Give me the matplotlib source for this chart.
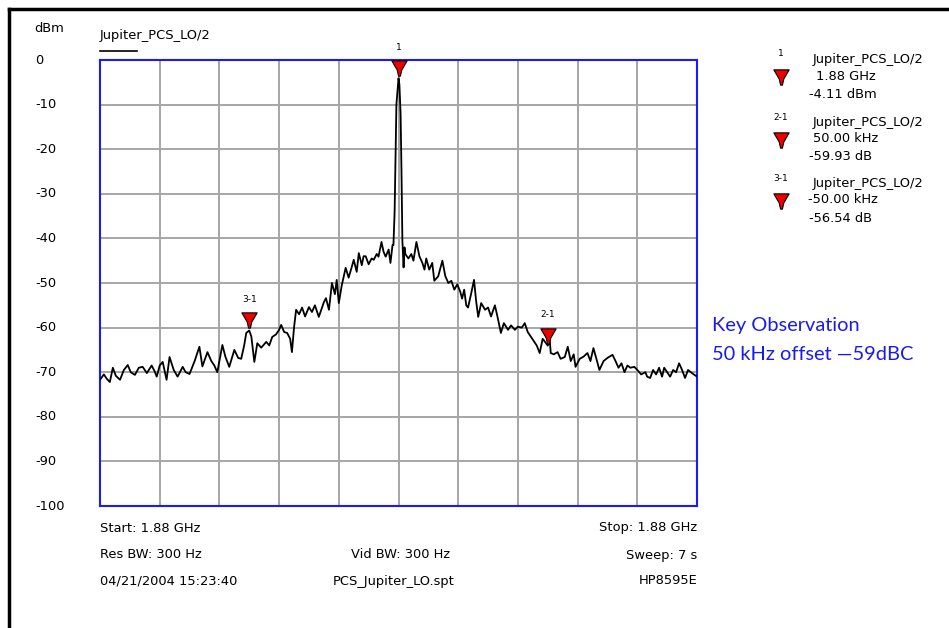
import matplotlib
matplotlib.use("Agg")
import matplotlib.pyplot as plt
from matplotlib.path import Path
from matplotlib.lines import Line2D
import matplotlib.transforms as mtransforms

# Spectrum trace: offset from 1.88 GHz centre (kHz) and level (dBm)
freq_khz = [
    -100.0, -98.7, -97.7, -96.7, -95.7, -94.7, -93.3, -92.0, -90.7, -89.7,
    -88.3, -87.0, -85.7, -84.3, -82.7, -81.7, -81.0, -80.0, -79.0, -77.7,
    -76.7, -75.3, -74.0, -72.3, -71.3, -70.0, -68.3, -66.7, -65.7, -64.0,
    -62.7, -61.7, -60.7, -59.0, -58.0, -56.7, -55.0, -53.7, -52.7, -51.7,
    -51.0, -50.0, -49.3, -48.3, -47.3, -46.0, -44.3, -43.3, -42.3, -41.0,
    -40.0, -39.3, -38.3, -37.3, -36.3, -35.7, -35.0, -34.3, -33.3, -32.3,
    -31.3, -30.0, -29.0, -28.0, -26.7, -25.0, -24.3, -23.3, -22.3, -21.3,
    -20.7, -20.0, -19.0, -17.7, -16.7, -15.7, -15.0, -14.0, -13.3, -12.3,
    -11.7, -11.0, -10.0, -9.0, -8.3, -7.3, -6.7, -5.7, -5.0, -4.3,
    -3.3, -2.7, -2.0, -1.7, -1.3, -1.0, -0.7, 0.0, 0.3, 0.7,
    1.0, 1.3, 1.7, 2.0, 2.3, 3.3, 4.3, 5.0, 6.0, 7.0,
    8.0, 8.7, 9.3, 10.3, 11.3, 12.0, 13.3, 14.7, 15.7, 16.7,
    17.7, 18.7, 19.7, 20.7, 21.3, 22.0, 22.7, 23.3, 24.3, 25.3,
    26.0, 26.7, 27.7, 29.0, 30.0, 31.0, 32.3, 33.3, 34.3, 35.3,
    36.7, 37.7, 39.0, 40.0, 41.3, 42.3, 43.3, 44.3, 45.3, 46.3,
    47.3, 48.3, 50.0, 50.7, 51.0, 52.0, 53.3, 54.3, 55.7, 56.7,
    57.7, 58.7, 59.3, 60.7, 62.0, 63.3, 64.3, 65.3, 66.3, 67.3,
    68.7, 70.0, 71.7, 72.7, 73.7, 74.7, 75.7, 76.7, 77.7, 79.0,
    80.0, 81.3, 82.7, 83.3, 84.3, 85.3, 86.3, 87.3, 88.3, 89.0,
    90.0, 91.0, 92.0, 93.0, 94.0, 95.0, 96.0, 97.0, 98.3, 100.0,
]
level_dbm = [
    -71.7, -70.5, -71.5, -72.2, -69.0, -70.8, -71.7, -69.5, -68.4, -70.0,
    -70.6, -69.0, -68.8, -70.2, -68.5, -69.8, -71.0, -68.5, -67.7, -71.7,
    -66.6, -69.5, -71.0, -68.8, -70.0, -70.4, -67.5, -64.3, -68.7, -65.5,
    -67.5, -68.5, -70.0, -63.9, -66.5, -68.8, -65.0, -66.8, -67.0, -64.0,
    -61.2, -60.65, -62.0, -67.7, -63.5, -64.5, -63.2, -64.0, -62.1, -61.5,
    -60.5, -59.4, -61.0, -61.2, -62.5, -65.5, -60.0, -56.0, -57.0, -55.5,
    -57.5, -55.4, -56.5, -55.0, -57.6, -54.3, -53.4, -56.0, -50.0, -52.5,
    -49.3, -54.5, -50.5, -46.6, -48.8, -46.5, -44.8, -47.5, -43.3, -46.0,
    -44.0, -44.0, -45.8, -44.5, -44.8, -43.5, -44.1, -40.8, -43.0, -44.1,
    -42.5, -45.5, -41.5, -41.5, -34.0, -22.0, -10.0, -4.11, -5.5, -12.0,
    -25.0, -40.5, -46.5, -42.0, -43.5, -44.5, -43.5, -45.0, -40.8, -44.0,
    -45.5, -47.0, -44.5, -47.0, -45.5, -49.5, -48.5, -45.0, -48.5, -50.0,
    -49.5, -51.5, -50.3, -52.0, -53.5, -51.5, -55.0, -55.5, -52.5, -49.3,
    -54.0, -57.6, -54.5, -56.0, -55.5, -57.5, -55.0, -58.0, -61.2, -59.0,
    -60.5, -59.5, -60.5, -59.8, -60.0, -59.0, -61.0, -62.0, -63.0, -64.0,
    -65.7, -62.5, -64.04, -63.0, -65.7, -66.0, -65.5, -67.0, -66.6, -64.3,
    -67.5, -66.0, -68.8, -67.0, -66.5, -65.7, -67.5, -64.6, -67.0, -69.5,
    -67.5, -66.8, -66.1, -67.5, -69.0, -68.0, -70.0, -68.5, -69.0, -68.8,
    -69.5, -70.5, -70.0, -71.0, -71.3, -69.5, -70.5, -69.0, -71.0, -69.0,
    -70.0, -71.0, -69.5, -70.0, -68.0, -69.5, -71.3, -69.5, -70.2, -71.0,
]

# Markers: label, offset (kHz), level (dBm)
marker_labels = ["1", "2-1", "3-1"]
marker_freq_khz = [0.0, 50.0, -50.0]
marker_level_dbm = [-4.11, -4.11 - 59.93, -4.11 - 56.54]
marker_readout = [
    ["Jupiter_PCS_LO/2", "1.88 GHz", "-4.11 dBm"],
    ["Jupiter_PCS_LO/2", "50.00 kHz", "-59.93 dB"],
    ["Jupiter_PCS_LO/2", "-50.00 kHz", "-56.54 dB"],
]

y_ticks = [0, -10, -20, -30, -40, -50, -60, -70, -80, -90, -100]

W, H = 949, 628
fig = plt.figure(figsize=(W / 100, H / 100), dpi=100)
fig.patch.set_facecolor("white")

def fx(px):
    return px / W

def fy(py):
    return 1 - py / H

ax = fig.add_axes([fx(100), fy(506), fx(697) - fx(100), fy(60) - fy(506)])
ax.set_xlim(-100, 100)
ax.set_ylim(-100, 0)
ax.set_xticks([-100 + 20 * i for i in range(11)])
ax.set_yticks(y_ticks)
ax.grid(True, color="#a6a6a6", linewidth=1.4)
ax.tick_params(length=0, labelbottom=False, labelleft=False)
for s in ax.spines.values():
    s.set_color("#1a1aff")
    s.set_linewidth(1.5)
ax.set_axisbelow(True)

ax.plot(freq_khz, level_dbm, color="black", linewidth=1.3, zorder=3)

# Pin-shaped marker glyph
pin = Path(
    [(-1.0, 1.0), (1.0, 1.0), (0.3, -0.2), (0.12, -1.0), (-0.12, -1.0), (-0.3, -0.2), (-1.0, 1.0)],
    [Path.MOVETO, Path.LINETO, Path.LINETO, Path.LINETO, Path.LINETO, Path.LINETO, Path.CLOSEPOLY],
)

font = ["DejaVu Sans"]
fs = 9.4

for lab, f, lv in zip(marker_labels, marker_freq_khz, marker_level_dbm):
    tr = mtransforms.offset_copy(ax.transData, fig=fig, x=0, y=10, units="dots")
    ax.plot([f], [lv], marker=pin, markersize=11, markerfacecolor="#ee0000",
            markeredgecolor="black", markeredgewidth=0.8, transform=tr,
            clip_on=False, zorder=5)
    tr2 = mtransforms.offset_copy(ax.transData, fig=fig, x=0, y=31, units="dots")
    ax.text(f, lv, lab, transform=tr2, ha="center", va="center", fontsize=6.5,
            family=font, clip_on=False)

# Y-axis labels
for v in y_ticks:
    py = 60 + (-v) * (506 - 60) / 100
    fig.text(fx(35), fy(py), str(v), ha="left", va="center", fontsize=fs, family=font)
fig.text(fx(34), fy(28), "dBm", ha="left", va="center", fontsize=fs, family=font)

# Trace title with line sample
fig.text(fx(100), fy(36), "Jupiter_PCS_LO/2", ha="left", va="center", fontsize=fs, family=font)
fig.add_artist(Line2D([fx(100), fx(137)], [fy(51), fy(51)], color="black", linewidth=1.2))

# Marker readout panel
block_y = [54, 117, 178]
value_x = [816, 813, 808]
for lab, rows, by, vx in zip(marker_labels, marker_readout, block_y, value_x):
    fig.text(fx(781), fy(by), lab, ha="center", va="center", fontsize=6.5, family=font)
    fig.add_artist(Line2D([fx(781)], [fy(by + 23)], marker=pin, markersize=11,
                          markerfacecolor="#ee0000", markeredgecolor="black",
                          markeredgewidth=0.8))
    fig.text(fx(813), fy(by + 5), rows[0], ha="left", va="center", fontsize=fs, family=font)
    fig.text(fx(vx), fy(by + 22), rows[1], ha="left", va="center", fontsize=fs, family=font)
    fig.text(fx(809), fy(by + 40), rows[2], ha="left", va="center", fontsize=fs, family=font)

# Sweep settings footer
fig.text(fx(100), fy(528), "Start: 1.88 GHz", ha="left", va="center", fontsize=fs, family=font)
fig.text(fx(697), fy(528), "Stop: 1.88 GHz", ha="right", va="center", fontsize=fs, family=font)
fig.text(fx(100), fy(555), "Res BW: 300 Hz", ha="left", va="center", fontsize=fs, family=font)
fig.text(fx(401), fy(555), "Vid BW: 300 Hz", ha="center", va="center", fontsize=fs, family=font)
fig.text(fx(697), fy(555), "Sweep: 7 s", ha="right", va="center", fontsize=fs, family=font)
fig.text(fx(100), fy(581), "04/21/2004 15:23:40", ha="left", va="center", fontsize=fs, family=font)
fig.text(fx(394), fy(581), "PCS_Jupiter_LO.spt", ha="center", va="center", fontsize=fs, family=font)
fig.text(fx(697), fy(581), "HP8595E", ha="right", va="center", fontsize=fs, family=font)

# Annotation
fig.text(fx(712), fy(326), "Key Observation", ha="left", va="center", fontsize=14.4,
         color="#1a1aee", family=["Lato", "DejaVu Sans"])
fig.text(fx(712), fy(355), "50 kHz offset \u201459dBC", ha="left", va="center", fontsize=14.4,
         color="#1a1aee", family=["Lato", "DejaVu Sans"])

# Page frame
fig.add_artist(Line2D([fx(8.5), fx(8.5)], [fy(8.5), 0], color="black", linewidth=2.5))
fig.add_artist(Line2D([fx(8.5), 1], [fy(8.5), fy(8.5)], color="black", linewidth=2.5))

fig.savefig("out.png", dpi=100)
